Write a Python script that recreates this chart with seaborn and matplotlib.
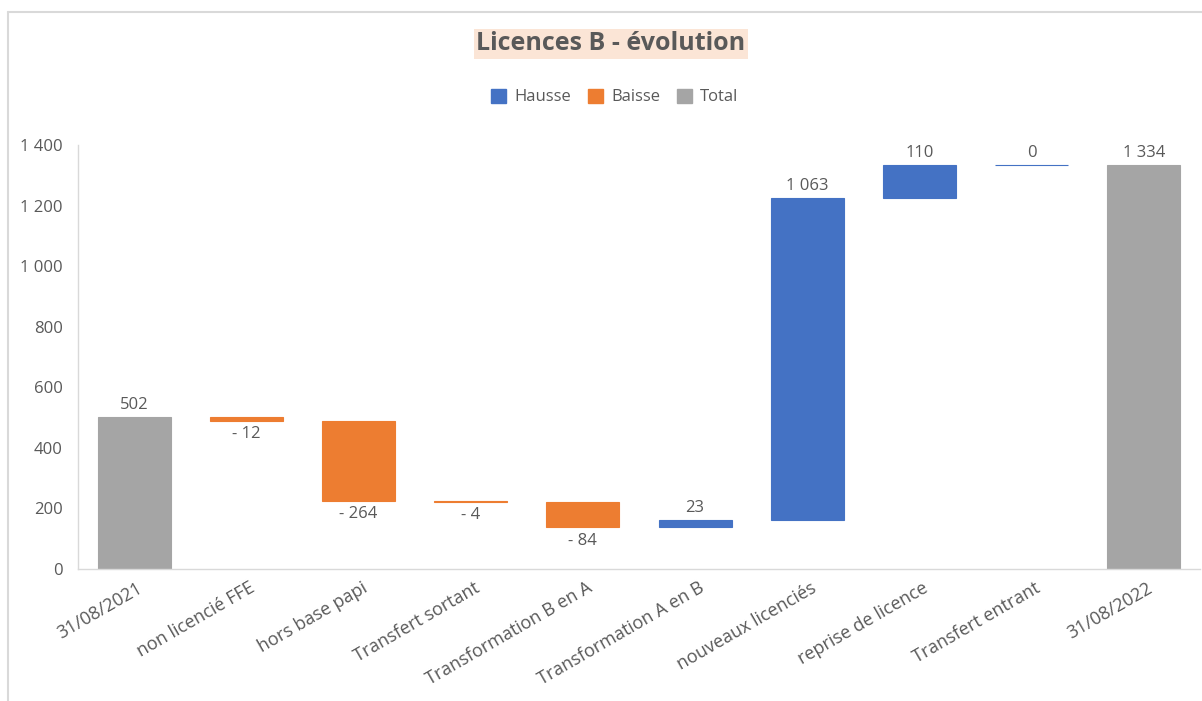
import numpy as np
import pandas as pd
import matplotlib
matplotlib.use("Agg")
import matplotlib.pyplot as plt
import matplotlib.transforms as mtransforms
import seaborn as sns
from matplotlib.patches import Patch
from matplotlib.lines import Line2D
from matplotlib.ticker import FuncFormatter

# ------------------------------
# DATA
# ------------------------------
categories = ["31/08/2021", "non licencié FFE", "hors base papi", "Transfert sortant",
              "Transformation B en A", "Transformation A en B", "nouveaux licenciés",
              "reprise de licence", "Transfert entrant", "31/08/2022"]
changes = [502, -12, -264, -4, -84, 23, 1063, 110, 0, 1334]
kinds = ["Total", "Baisse", "Baisse", "Baisse", "Baisse",
         "Hausse", "Hausse", "Hausse", "Hausse", "Total"]

colors = {"Hausse": "#4472C4", "Baisse": "#ED7D31", "Total": "#A5A5A5"}
text_color = "#595959"

# waterfall bottoms / heights
bottoms, heights, level = [], [], 0
for v, k in zip(changes, kinds):
    if k == "Total":
        bottoms.append(0)
        heights.append(v)
        level = v
    else:
        bottoms.append(min(level, level + v))
        heights.append(abs(v))
        level += v

df = pd.DataFrame({"categorie": categories, "valeur": changes, "type": kinds,
                   "bas": bottoms, "hauteur": heights})


def fmt(v):
    s = f"{abs(int(v)):,}".replace(",", " ")
    return "- " + s if v < 0 else s


# ------------------------------
# PLOT
# ------------------------------
sns.set_style("white")
plt.rcParams["font.family"] = ["Open Sans", "DejaVu Sans"]

fig = plt.figure(figsize=(12.02, 7.01), dpi=100)
ax = fig.add_axes([78 / 1202, 1 - 569 / 701, 1122 / 1202, 424 / 701])

for k in ["Hausse", "Baisse", "Total"]:
    sub = df[df["type"] == k]
    sns.barplot(data=sub, x="categorie", y="hauteur", order=categories,
                bottom=sub["bas"].values, color=colors[k], saturation=1,
                width=0.65, errorbar=None, edgecolor=colors[k], linewidth=0.8, ax=ax)

# data labels
for i, row in df.iterrows():
    top = row["bas"] + row["hauteur"]
    if row["type"] == "Baisse":
        ax.annotate(fmt(row["valeur"]), (i, row["bas"]), xytext=(0, -4),
                    textcoords="offset points", ha="center", va="top",
                    fontsize=12, color=text_color)
    else:
        ax.annotate(fmt(row["valeur"]), (i, top), xytext=(0, 3),
                    textcoords="offset points", ha="center", va="bottom",
                    fontsize=12, color=text_color)

ax.set_xlim(-0.5, 9.5)
ax.set_ylim(0, 1400)
ax.set_yticks(np.arange(0, 1401, 200))
ax.yaxis.set_major_formatter(FuncFormatter(lambda v, p: fmt(v)))
ax.set_xlabel("")
ax.set_ylabel("")
ax.tick_params(axis="both", length=0, labelsize=12, labelcolor=text_color)
ax.tick_params(axis="y", pad=11)
ax.set_xticks(range(len(categories)))
ax.set_xticklabels(categories, rotation=30, ha="right", rotation_mode="anchor",
                   fontsize=13)
shift = mtransforms.ScaledTranslation(0.03, -0.05, fig.dpi_scale_trans)
for lbl in ax.get_xticklabels():
    lbl.set_transform(lbl.get_transform() + shift)

for s in ["top", "right"]:
    ax.spines[s].set_visible(False)
for s in ["left", "bottom"]:
    ax.spines[s].set_color("#D9D9D9")
    ax.spines[s].set_linewidth(1)

# title and legend
fig.text(611 / 1202, 1 - 44 / 701, "Licences B - évolution", ha="center", va="center",
         fontsize=18, fontweight="bold", color=text_color,
         bbox=dict(facecolor="#FBE5D6", edgecolor="none", pad=2))

handles = [Patch(color=colors[k], label=k) for k in ["Hausse", "Baisse", "Total"]]
leg = fig.legend(handles=handles, loc="center", bbox_to_anchor=(615 / 1202, 1 - 97 / 701),
                 ncol=3, frameon=False, fontsize=12, handlelength=0.9, handleheight=0.9,
                 handletextpad=0.5, columnspacing=1.0)
for t in leg.get_texts():
    t.set_color(text_color)

# outer chart frame
fig.add_artist(Line2D([8 / 1202, 8 / 1202], [0, 1 - 12 / 701], color="#D9D9D9", lw=1.5))
fig.add_artist(Line2D([8 / 1202, 1], [1 - 12 / 701, 1 - 12 / 701], color="#D9D9D9", lw=1.5))

fig.savefig("out.png", dpi=100)
